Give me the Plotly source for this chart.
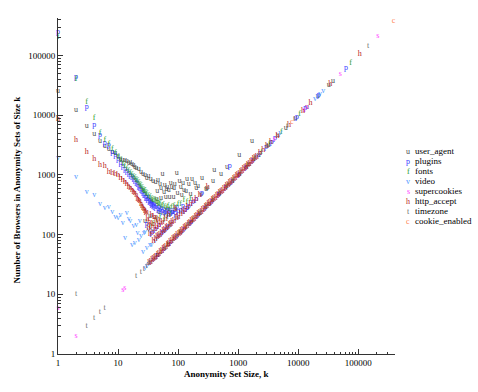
import plotly.graph_objects as go

# ---------------- data ----------------
k_user_agent = [1,2,3,4,5,6,7,8,9,10,11,12,13,14,15,16,17,18,19,20,22,24,26,28,30,32,35,38,42,46,50,55,60,66,75,85,95,110,125,150,170,190,215,250,290,380,400,515,650,1040,1700,
                36,44,52,62,72,84,98,115,135,160,200,240,300,28,34,40,48,58,68,80,
                45,52,58,64,70,78,88,105,120,140,
                45,70,110,160,230,330,480,700,1000,1500,2200,3200,4600,6200,9000,14000,21000,32000,38000]
y_user_agent = [26000,12300,6600,4900,3650,3000,2700,2450,2300,2100,1850,1800,1760,1700,1600,1680,1500,1450,1350,1300,1250,1100,1050,980,900,950,850,800,760,820,700,1040,680,640,720,600,1070,620,560,700,850,740,650,900,580,780,1230,1050,1350,2180,3660,
                360,396,416,434,432,420,490,460,540,480,600,480,600,168,204,200,240,232,272,240,
                540,600,520,580,560,620,700,800,720,840,
                45,70,110,160,230,330,480,700,1000,1500,2200,3200,4600,6200,9000,14000,21000,32000,38000]

k_plugins = [1,2,3,4,5,6,7,8,9,10,11,12,13,14,15,16,17,18,19,20,21,22,23,24,25,26,27,28,29,30,31,32,33,34,35,36,37,38,39,40,42,44,46,48,50,52,55,58,61,64,68,72,76,80,85,90,95,100,110,120,130,140,150,175,200,250,720,
             30,36,42,48,55,62,70,
             45,58,75,95,125,165,215,280,365,475,620,800,1050,1360,1770,2300,2900,3600,4100,9500,13000,22000,62000]
y_plugins = [246000,44500,14000,7000,4600,3400,3200,2400,2200,1850,1600,1400,1250,1150,1070,1000,960,900,820,760,720,660,620,580,550,520,486,476,435,420,400,420,360,380,350,330,340,310,320,300,290,310,270,290,260,280,250,270,240,256,220,260,230,240,260,230,285,250,260,300,260,280,300,350,400,500,1440,
             150,108,126,144,110,124,140,
             45,58,75,95,125,165,215,280,365,475,620,800,1050,1360,1770,2300,2900,3600,4100,9500,13000,22000,62000]

k_fonts = [1,2,3,4,5,6,7,8,9,10,11,12,13,14,15,16,17,18,19,20,21,22,23,24,25,26,27,28,29,30,32,34,36,38,40,42,44,46,48,50,53,56,60,64,68,72,78,85,92,100,110,125,140,160,
           34,38,44,50,58,66,75,
           52,66,84,105,135,175,225,290,375,490,640,830,1080,1400,1850,2450,3300,5200,10500,74000]
y_fonts = [205000,41000,17000,9100,5000,3800,3300,2700,2300,2000,1750,1550,1400,1250,1150,1070,1000,940,880,820,780,730,690,650,600,570,540,530,500,480,450,420,400,380,380,360,350,330,340,320,300,310,290,280,300,270,290,300,280,320,330,375,350,400,
           136,152,176,200,174,198,225,
           52,66,84,105,135,175,225,290,375,490,640,830,1080,1400,1850,2450,3300,5200,10500,74000]

k_video = [1,2,3,4,5,6,7,8,9,10,11,12,13,14,15,16,17,18,19,20,21,22,23,24,26,27,28,30,32,34,36,38,41,44,47,50,54,58,62,66,70,75,80,90,100,120,150,200,300,500,800,1300,2100,3500,5000,19000,21000,23000,26000,
           28,30,32,35,38,41]
y_video = [1950,930,510,465,330,280,295,235,200,190,215,156,88,230,183,167,68,141,72,146,106,82,167,96,52,108,112,60,121,68,68,114,77,88,94,100,108,116,124,132,140,150,160,180,200,240,150,200,300,500,800,1300,2100,3500,5000,19000,21000,23000,26000,
           28,30,32,35,38,41]

k_supercookies = [1,2,12,13,4000,12500,14000,50000,210000]
y_supercookies = [6,2,12,13,4000,12500,14000,50000,210000]

k_http_accept = [1,2,3,4,5,6,7,8,9,10,11,12,13,14,15,16,17,18,19,20,21,22,23,24,25,26,27,28,29,30,
                 31,32,33,34,35,36,37,38,39,40,41,42,43,44,45,46,47,48,50,52,53,55,57,60,62,64,67,70,73,76,80,85,90,95,100,110,120,130,145,160,180,200,230,310,
                 33,35,37,39,41,43,46,48,51,54,57,60,63,67,70,74,78,83,87,92,97,103,108,114,121,127,134,142,150,158,167,176,186,196,207,219,231,244,257,272,287,303,320,337,356,376,397,419,442,467,493,520,549,580,612,646,682,720,760,802,847,894,944,996,1050,1110,1170,1240,1310,1380,1460,1540,1630,1720,1820,1920,2030,
                 2300,2600,3000,3500,4500,7000,12000,16000,34000,105000]
y_http_accept = [8700,3900,2470,1850,1480,1420,1100,1070,1020,980,890,830,760,700,640,600,560,520,500,460,400,380,360,330,300,280,270,250,230,240,
                 186,128,165,102,140,216,111,152,78,200,123,84,172,132,90,184,94,144,100,156,106,165,114,120,186,128,134,210,146,152,160,170,270,190,200,220,240,260,290,320,360,400,460,620,
                 33,35,37,39,41,43,46,48,51,54,57,60,63,67,70,74,78,83,87,92,97,103,108,114,121,127,134,142,150,158,167,176,186,196,207,219,231,244,257,272,287,303,320,337,356,376,397,419,442,467,493,520,549,580,612,646,682,720,760,802,847,894,944,996,1050,1110,1170,1240,1310,1380,1460,1540,1630,1720,1820,1920,2030,
                 2300,2600,3000,3500,4500,7000,12000,16000,34000,105000]

k_timezone = [2,3,4,5,6,20,24,27,30,33,60,95,150,240,800,1900,3000,6500,8500,145000]
y_timezone = [10,3,4,5,6,20,24,27,30,33,60,95,150,240,800,1900,3000,6500,8500,145000]

k_cookie_enabled = [7800,385000]
y_cookie_enabled = [7800,385000]

tick_values = [1,10,100,1000,10000,100000]
tick_labels = ["1","10","100","1000","10000","100000"]

series = [
    ("user_agent", "u", "#4d4d4d", k_user_agent, y_user_agent),
    ("plugins", "p", "#3b3bff", k_plugins, y_plugins),
    ("fonts", "f", "#1f9a1f", k_fonts, y_fonts),
    ("video", "v", "#4f98ff", k_video, y_video),
    ("supercookies", "s", "#ff3cff", k_supercookies, y_supercookies),
    ("http_accept", "h", "#b81e1e", k_http_accept, y_http_accept),
    ("timezone", "t", "#707070", k_timezone, y_timezone),
    ("cookie_enabled", "c", "#ff7f50", k_cookie_enabled, y_cookie_enabled),
]

SERIF = "Liberation Serif"
fig = go.Figure()
for name, letter, color, ks, ys in series:
    fig.add_trace(go.Scatter(x=ks, y=ys, mode="text", text=letter, name=name,
                             textposition="middle center",
                             textfont=dict(family=SERIF, size=8, color=color),
                             showlegend=False, hoverinfo="skip", cliponaxis=False))

# legend drawn as text annotations
W0, W1 = 57.8, 395.0
H0, H1 = 18.3, 354.3
def px(xp):
    return (xp - W0) / (W1 - W0)
def py(yp):
    return (H1 - yp) / (H1 - H0)

annotations = []
for i, (name, letter, color, ks, ys) in enumerate(series):
    yy = 151.7 + i * 9.95
    annotations.append(dict(x=px(408.3), y=py(yy), xref="paper", yref="paper", text=letter,
                            showarrow=False, xanchor="center", yanchor="middle",
                            font=dict(family=SERIF, size=8, color=color)))
    annotations.append(dict(x=px(413.0), y=py(yy), xref="paper", yref="paper", text=name,
                            showarrow=False, xanchor="left", yanchor="middle",
                            font=dict(family=SERIF, size=9, color="black")))

annotations.append(dict(x=0.5, y=py(374.5), xref="paper", yref="paper",
                        text="<b>Anonymity Set Size, k</b>", showarrow=False,
                        xanchor="center", yanchor="middle",
                        font=dict(family=SERIF, size=9, color="black")))
annotations.append(dict(x=px(16.5), y=py(190), xref="paper", yref="paper",
                        text="<b>Number of Browsers in Anonymity Sets of Size k</b>", showarrow=False,
                        textangle=-90, xanchor="center", yanchor="middle",
                        font=dict(family=SERIF, size=9, color="black")))

axis_common = dict(type="log", showgrid=False, zeroline=False, showline=True, automargin=False,
                   linecolor="#333333", linewidth=1, ticks="inside", ticklen=5,
                   tickcolor="#333333", tickvals=tick_values, ticktext=tick_labels,
                   tickfont=dict(family=SERIF, size=9, color="black"),
                   minor=dict(ticks="inside", ticklen=2.5, tickcolor="#333333", dtick="D1", showgrid=False))

fig.update_layout(
    width=478, height=392,
    margin=dict(l=58, r=83, t=18, b=38),
    plot_bgcolor="white", paper_bgcolor="white",
    xaxis=dict(range=[0, 5.61], **axis_common),
    yaxis=dict(range=[0, 5.63], **axis_common),
    annotations=annotations,
    showlegend=False,
)

fig.write_html("out.html", config={"displayModeBar": False},
               post_script="document.body.style.margin='0';document.body.style.padding='0';")
